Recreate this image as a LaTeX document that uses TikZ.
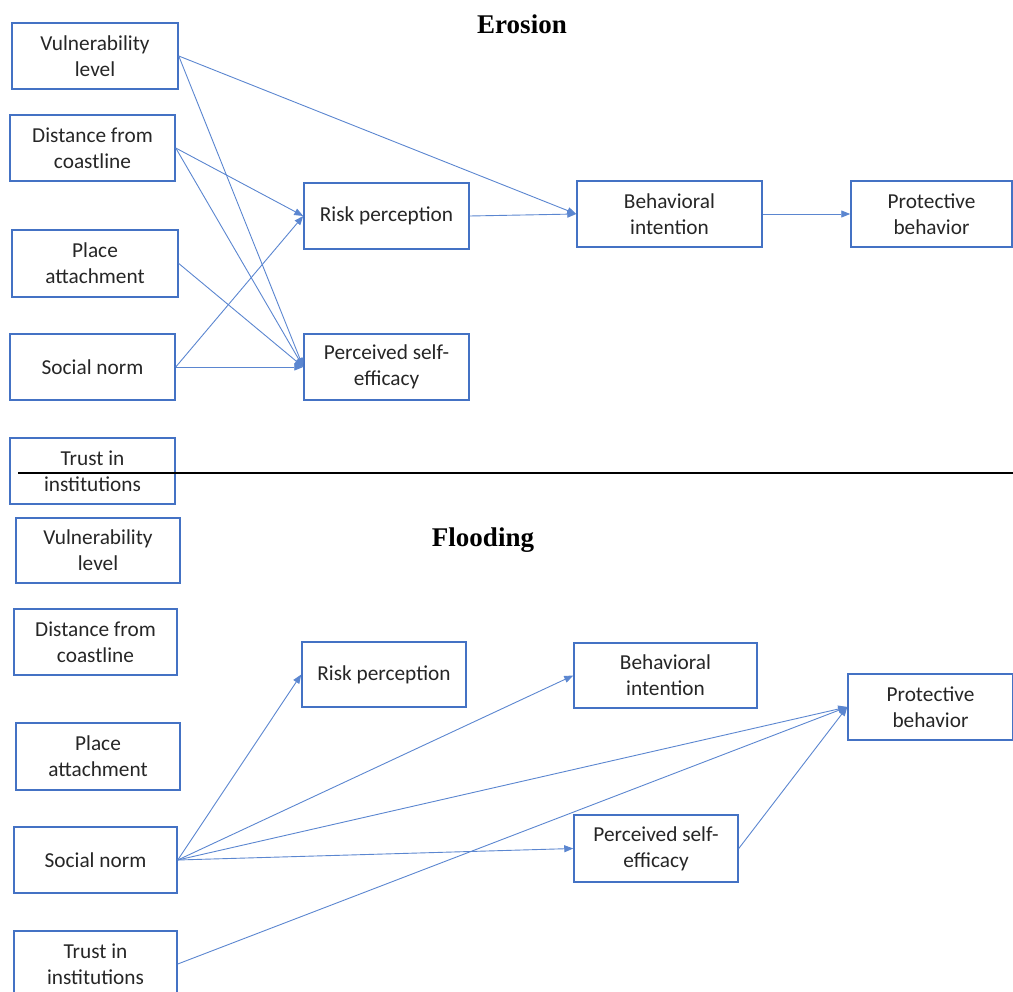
\documentclass[tikz,border=0pt]{standalone}
\usepackage{fontspec}
\setmainfont{Carlito}
\newfontfamily\titlefont{Liberation Serif}
\usetikzlibrary{arrows.meta}
\definecolor{boxblue}{HTML}{4472C4}
\definecolor{lineblue}{HTML}{5B86D0}
\tikzset{
  x=1pt, y=-1pt,
  box/.style={draw=boxblue, line width=1.5pt, rectangle, align=center, inner sep=0pt,
    font=\fontsize{21.3}{26}\selectfont, text=black!85},
  conn/.style={draw=lineblue, line width=0.9pt, -{Triangle[length=9pt,width=7pt]}},
  ttl/.style={font=\titlefont\fontsize{27}{32}\selectfont\bfseries}
}
\begin{document}
\begin{tikzpicture}
\useasboundingbox (0,0) rectangle (1013,992);
% Titles
\node[ttl] (t1) at (522,24) {Erosion};
\node[ttl] (t2) at (483,540) {Flooding};
% Erosion boxes
\node[box, minimum width=166pt, minimum height=66pt] (vul1) at (95,56) {Vulnerability\\level};
\node[box, minimum width=165pt, minimum height=66pt] (dis1) at (92.5,148) {Distance from\\coastline};
\node[box, minimum width=166pt, minimum height=67pt] (pla1) at (95,263.5) {Place\\attachment};
\node[box, minimum width=165pt, minimum height=66pt] (soc1) at (92.5,367) {Social norm};
\node[box, minimum width=165pt, minimum height=66pt] (tru1) at (92.5,471) {Trust in\\institutions};
\node[box, minimum width=165pt, minimum height=66pt] (risk1) at (386.5,216) {Risk perception};
\node[box, minimum width=165pt, minimum height=66pt] (self1) at (386.5,367) {Perceived self-\\efficacy};
\node[box, minimum width=185pt, minimum height=66pt] (beh1) at (669.5,214) {Behavioral\\intention};
\node[box, minimum width=161pt, minimum height=66pt] (pro1) at (931.5,214) {Protective\\behavior};
% Erosion connectors
\draw[conn] (vul1.east) -- (beh1.west);
\draw[conn] (vul1.east) -- (self1.west);
\draw[conn] (dis1.east) -- (risk1.west);
\draw[conn] (dis1.east) -- (self1.west);
\draw[conn] (pla1.east) -- (self1.west);
\draw[conn] (soc1.east) -- (risk1.west);
\draw[conn] (soc1.east) -- (self1.west);
\draw[conn] (risk1.east) -- (beh1.west);
\draw[conn] (beh1.east) -- (pro1.west);
% Separator
\coordinate (sepL) at (18,473);
\coordinate (sepR) at (1013,473);
\draw[black, line width=1.6pt] (sepL) -- (sepR);
% Flooding boxes
\node[box, minimum width=164pt, minimum height=65pt] (vul2) at (98,550.5) {Vulnerability\\level};
\node[box, minimum width=163pt, minimum height=66pt] (dis2) at (95.5,642) {Distance from\\coastline};
\node[box, minimum width=164pt, minimum height=67pt] (pla2) at (98,756.5) {Place\\attachment};
\node[box, minimum width=163pt, minimum height=66pt] (soc2) at (95.5,860) {Social norm};
\node[box, minimum width=163pt, minimum height=66pt] (tru2) at (95.5,964) {Trust in\\institutions};
\node[box, minimum width=164pt, minimum height=65pt] (risk2) at (384,674.5) {Risk perception};
\node[box, minimum width=183pt, minimum height=65pt] (beh2) at (665.5,675.5) {Behavioral\\intention};
\node[box, minimum width=165pt, minimum height=66pt] (pro2) at (930.5,707) {Protective\\behavior};
\node[box, minimum width=164pt, minimum height=67pt] (self2) at (656,848.5) {Perceived self-\\efficacy};
% Flooding connectors
\draw[conn] (soc2.east) -- (risk2.west);
\draw[conn] (soc2.east) -- (beh2.west);
\draw[conn] (soc2.east) -- (pro2.west);
\draw[conn] (soc2.east) -- (self2.west);
\draw[conn] (tru2.east) -- (pro2.west);
\draw[conn] (self2.east) -- (pro2.west);
\end{tikzpicture}
\end{document}
